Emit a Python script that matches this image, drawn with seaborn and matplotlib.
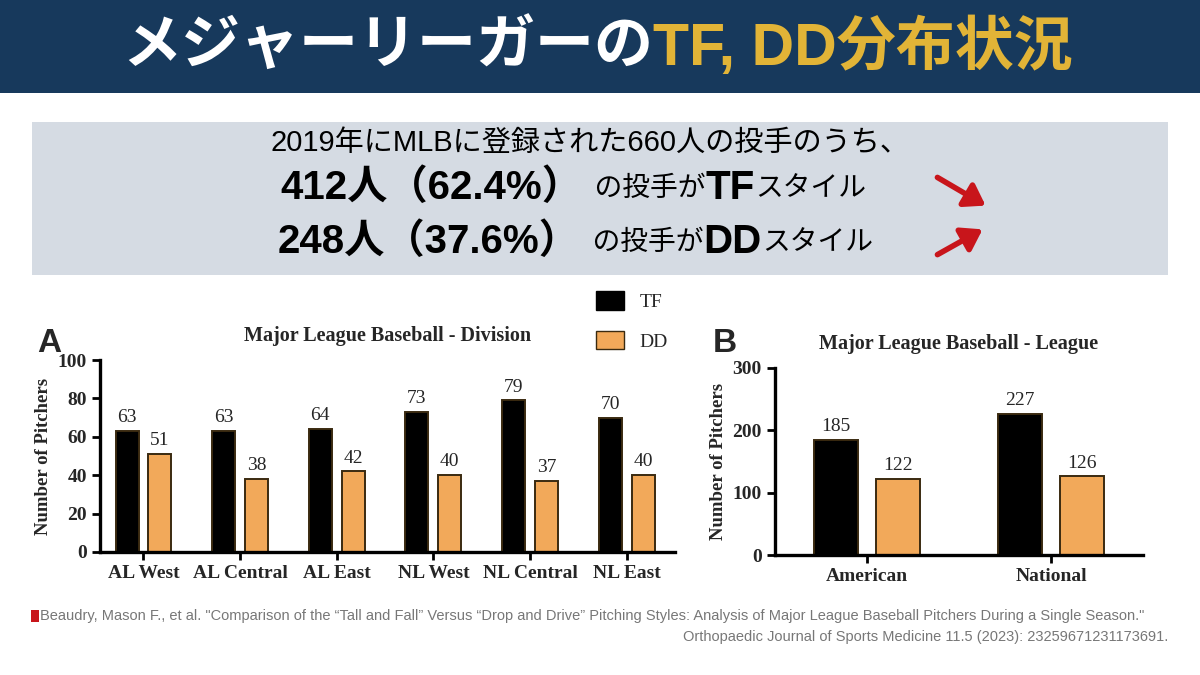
import numpy as np
import pandas as pd
import matplotlib
matplotlib.use('Agg')
import matplotlib.pyplot as plt
from matplotlib.patches import Rectangle, Patch, FancyArrowPatch
import seaborn as sns

# ── Data ─────────────────────────────────────────────────────────────────────
divisions = ['AL West', 'AL Central', 'AL East', 'NL West', 'NL Central', 'NL East']
div_tf = [63, 63, 64, 73, 79, 70]
div_dd = [51, 38, 42, 40, 37, 40]
leagues = ['American', 'National']
lg_tf = [185, 227]
lg_dd = [122, 126]
styles = ['TF', 'DD']

NAVY = '#17395c'
GOLD = '#e2b437'
ORANGE = '#f2a95a'
JP = ['Noto Sans CJK JP', 'DejaVu Sans']
LAT = ['Liberation Sans', 'Noto Sans CJK JP']
SERIF = 'Liberation Serif'

sns.set_theme(style='ticks')
plt.rcParams['font.family'] = JP

fig = plt.figure(figsize=(12, 6.75), dpi=100)
fig.patch.set_facecolor('white')

# ── Header ───────────────────────────────────────────────────────────────────
fig.patches.append(Rectangle((0, 1 - 93/675), 1, 93/675, transform=fig.transFigure,
                             facecolor=NAVY, edgecolor='none', zorder=0))
fig.patches.append(Rectangle((32/1200, 1 - 275/675), 1136/1200, 153/675,
                             transform=fig.transFigure, facecolor='#d5dbe3',
                             edgecolor='none', zorder=0))

fig.canvas.draw()
rend = fig.canvas.get_renderer()


def chain(x, y, parts):
    """Place text pieces one after another (x, y in pixels from top-left)."""
    for s, size, weight, color, fam in parts:
        t = fig.text(x / 1200, 1 - y / 675, s, fontsize=size, fontweight=weight,
                     color=color, va='center', ha='left', family=fam)
        x += t.get_window_extent(renderer=rend).width
    return x


chain(122, 47, [('メジャーリーガーの', 42.5, 'bold', 'white', JP),
                ('TF, DD分布状況', 42.5, 'bold', GOLD, LAT)])
chain(270, 143, [('2019年にMLBに登録された660人の投手のうち、', 21, 'normal', 'black', LAT)])
chain(280, 188, [('412人（62.4%）', 29, 'bold', 'black', LAT),
                 ('  の投手が', 20, 'normal', 'black', JP),
                 ('TF', 29, 'bold', 'black', LAT),
                 ('スタイル', 20, 'normal', 'black', JP)])
chain(278, 242, [('248人（37.6%）', 29, 'bold', 'black', LAT),
                 ('  の投手が', 20, 'normal', 'black', JP),
                 ('DD', 29, 'bold', 'black', LAT),
                 ('スタイル', 20, 'normal', 'black', JP)])
fig.add_artist(FancyArrowPatch(
    (935/1200, 1 - 176/675), (988/1200, 1 - 207/675), transform=fig.transFigure,
    arrowstyle='-|>,head_length=12,head_width=8', lw=4, color='#c8151b'))
fig.add_artist(FancyArrowPatch(
    (935/1200, 1 - 256/675), (985/1200, 1 - 228/675), transform=fig.transFigure,
    arrowstyle='-|>,head_length=12,head_width=8', lw=4, color='#c8151b'))

# ── Chart helper ─────────────────────────────────────────────────────────────
def draw(ax, cats, tf, dd, ymax, step, title, gap):
    df = pd.DataFrame({'cat': cats * 2, 'style': ['TF'] * len(cats) + ['DD'] * len(cats),
                       'n': tf + dd})
    sns.barplot(data=df, x='cat', y='n', hue='style', hue_order=styles,
                palette={'TF': 'black', 'DD': ORANGE}, saturation=1, ax=ax,
                width=0.68, gap=gap, edgecolor='#3a2a10', linewidth=1.4, legend=False)
    for p, v in zip(ax.patches, tf + dd):
        ax.text(p.get_x() + p.get_width() / 2, v + ymax * 0.025, f'{v}',
                ha='center', va='bottom', fontsize=14, family=SERIF)
    ax.set_ylim(0, ymax)
    ax.set_yticks(np.arange(0, ymax + 1, step))
    ax.set_facecolor('white')
    sns.despine(ax=ax)
    for s in ['left', 'bottom']:
        ax.spines[s].set_linewidth(2.4)
        ax.spines[s].set_color('black')
    ax.tick_params(width=2, length=6, color='black')
    ax.set_xlabel('')
    ax.set_ylabel('Number of Pitchers', fontsize=13.5, fontweight='bold', family=SERIF)
    for lab in ax.get_xticklabels() + ax.get_yticklabels():
        lab.set_family(SERIF)
        lab.set_fontweight('bold')
        lab.set_fontsize(14)
    ax.set_title(title, fontsize=14.5, fontweight='bold', family=SERIF, pad=14)


axA = fig.add_axes([100/1200, 1 - 552/675, 575/1200, 192/675])
draw(axA, divisions, div_tf, div_dd, 100, 20, 'Major League Baseball - Division', 0.3)
axA.set_xlim(-0.45, 5.5)

axB = fig.add_axes([775/1200, 1 - 555/675, 368/1200, 187/675])
draw(axB, leagues, lg_tf, lg_dd, 300, 100, 'Major League Baseball - League', 0.3)
axB.set_xlim(-0.5, 1.5)

fig.text(37/1200, 1 - 352/675, 'A', fontsize=24, fontweight='bold', family='Liberation Sans')
fig.text(713/1200, 1 - 352/675, 'B', fontsize=24, fontweight='bold', family='Liberation Sans')

handles = [Patch(facecolor='black', edgecolor='black', label='TF'),
           Patch(facecolor=ORANGE, edgecolor='#3a2a10', label='DD')]
fig.legend(handles=handles, loc='center', bbox_to_anchor=(632/1200, 1 - 321/675),
           frameon=False, prop={'family': SERIF, 'size': 14}, labelspacing=1.0,
           handlelength=1.4, handleheight=1.1)

# ── Citation ────────────────────────────────────────────────────────────────
fig.patches.append(Rectangle((31/1200, 1 - 622/675), 8/1200, 12/675,
                             transform=fig.transFigure, facecolor='#c8151b',
                             edgecolor='none'))
fig.text(40/1200, 1 - 616/675,
         'Beaudry, Mason F., et al. "Comparison of the \u201cTall and Fall\u201d Versus '
         '\u201cDrop and Drive\u201d Pitching Styles: Analysis of Major League Baseball '
         'Pitchers During a Single Season."',
         fontsize=10.5, color='#777777', va='center', family='Liberation Sans')
fig.text(1168/1200, 1 - 637/675,
         'Orthopaedic Journal of Sports Medicine 11.5 (2023): 23259671231173691.',
         fontsize=10.5, color='#777777', va='center', ha='right', family='Liberation Sans')

fig.savefig('out.png', dpi=100)
